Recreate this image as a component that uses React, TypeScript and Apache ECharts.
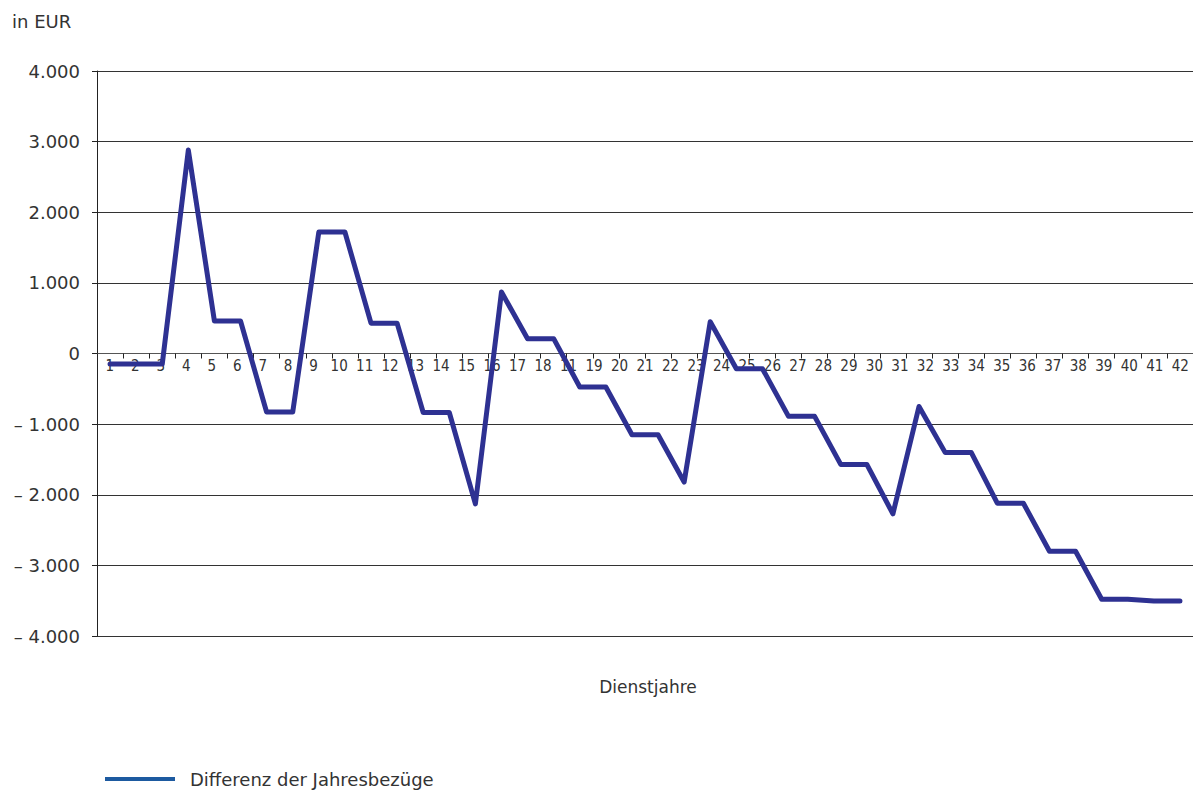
import React, { useEffect, useRef } from "react";
import * as echarts from "echarts";

// Dienstjahre (data categories) and values of the line
const years: string[] = Array.from({ length: 42 }, (_, i) => String(i + 1));
const differenz: number[] = [
  -150, -150, -150, 2880, 460, 460, -830, -830, 1720, 1720,
  430, 430, -835, -835, -2130, 870, 210, 210, -475, -475,
  -1150, -1150, -1820, 450, -215, -215, -890, -890, -1570, -1570,
  -2270, -750, -1400, -1400, -2120, -2120, -2800, -2800, -3480, -3480,
  -3505, -3505,
];
// tick labels as printed under the axis (the original contains a stray "11")
const xTickLabels: string[] = [
  "1", "2", "3", "4", "5", "6", "7", "8", "9", "10",
  "11", "12", "13", "14", "15", "16", "17", "18", "11", "19",
  "20", "21", "22", "23", "24", "25", "26", "27", "28", "29",
  "30", "31", "32", "33", "34", "35", "36", "37", "38", "39",
  "40", "41", "42",
];
const seriesName = "Differenz der Jahresbezüge";
const yUnit = "in EUR";
const xTitle = "Dienstjahre";

const yMin = -4000;
const yMax = 4000;
const gridTop = 71;
const gridBottom = 155;
const chartH = 791;

const fmtY = (v: number): string => {
  if (v === 0) return "0";
  const abs = Math.abs(v);
  const s = abs >= 1000 ? `${Math.floor(abs / 1000)}.${String(abs % 1000).padStart(3, "0")}` : String(abs);
  return v < 0 ? `– ${s}` : s;
};

export default function App() {
  const ref = useRef<HTMLDivElement>(null);
  useEffect(() => {
    if (!ref.current) return;
    const chart = echarts.init(ref.current, undefined, { renderer: "svg" });
    const textColor = "#333";
    const plotH = chartH - gridTop - gridBottom;
    // distance between the grid bottom and the zero line (labels sit under the zero line)
    const zeroOffset = -(plotH * (0 - yMin)) / (yMax - yMin);
    chart.setOption({
      animation: false,
      backgroundColor: "#fff",
      grid: { left: 97, right: 0, top: gridTop, bottom: gridBottom, containLabel: false },
      xAxis: [
        {
          type: "category",
          data: years,
          boundaryGap: true,
          position: "bottom",
          axisLine: { show: true, onZero: true, lineStyle: { color: "#555", width: 1 } },
          axisTick: { show: true, length: 5, interval: 0, lineStyle: { color: "#222" } },
          axisLabel: { show: false },
          splitLine: { show: false },
        },
        {
          type: "category",
          data: xTickLabels,
          boundaryGap: true,
          position: "bottom",
          offset: zeroOffset,
          axisLine: { show: false, onZero: false },
          axisTick: { show: false },
          axisLabel: {
            show: true,
            interval: 0,
            margin: 5,
            color: textColor,
            fontSize: 15,
            fontFamily: "DejaVu Sans Condensed, DejaVu Sans",
          },
          splitLine: { show: false },
        },
      ],
      yAxis: {
        type: "value",
        min: yMin,
        max: yMax,
        interval: 1000,
        axisLine: { show: true, lineStyle: { color: "#222", width: 1 } },
        axisTick: { show: true, length: 5, lineStyle: { color: "#222" } },
        axisLabel: {
          formatter: fmtY,
          margin: 17,
          color: textColor,
          fontSize: 18,
          fontFamily: "DejaVu Sans",
        },
        splitLine: { show: true, lineStyle: { color: "#333", width: 1 } },
      },
      legend: {
        left: 105,
        top: 770,
        padding: 0,
        icon: "rect",
        itemWidth: 70,
        itemHeight: 4,
        data: [{ name: seriesName, itemStyle: { color: "#1d5aa0" } }],
        textStyle: {
          color: textColor,
          fontSize: 18,
          fontFamily: "DejaVu Sans",
          padding: [0, 0, 0, 10],
        },
      },
      graphic: [
        {
          type: "text",
          left: 12,
          top: 12,
          style: { text: yUnit, fill: textColor, font: "18px 'DejaVu Sans'" },
        },
        {
          type: "text",
          x: 648,
          y: 687,
          style: {
            text: xTitle,
            fill: textColor,
            font: "17px 'DejaVu Sans'",
            align: "center",
            verticalAlign: "middle",
          },
        },
      ],
      series: [
        {
          name: seriesName,
          type: "line",
          xAxisIndex: 0,
          data: differenz,
          symbol: "none",
          lineStyle: { color: "#2e3192", width: 5, join: "round", cap: "round" },
          itemStyle: { color: "#2e3192" },
        },
      ],
    });
    return () => chart.dispose();
  }, []);
  return (
    <div
      ref={ref}
      style={{ position: "absolute", left: 0, top: 0, width: 1193, height: 791 }}
    />
  );
}
